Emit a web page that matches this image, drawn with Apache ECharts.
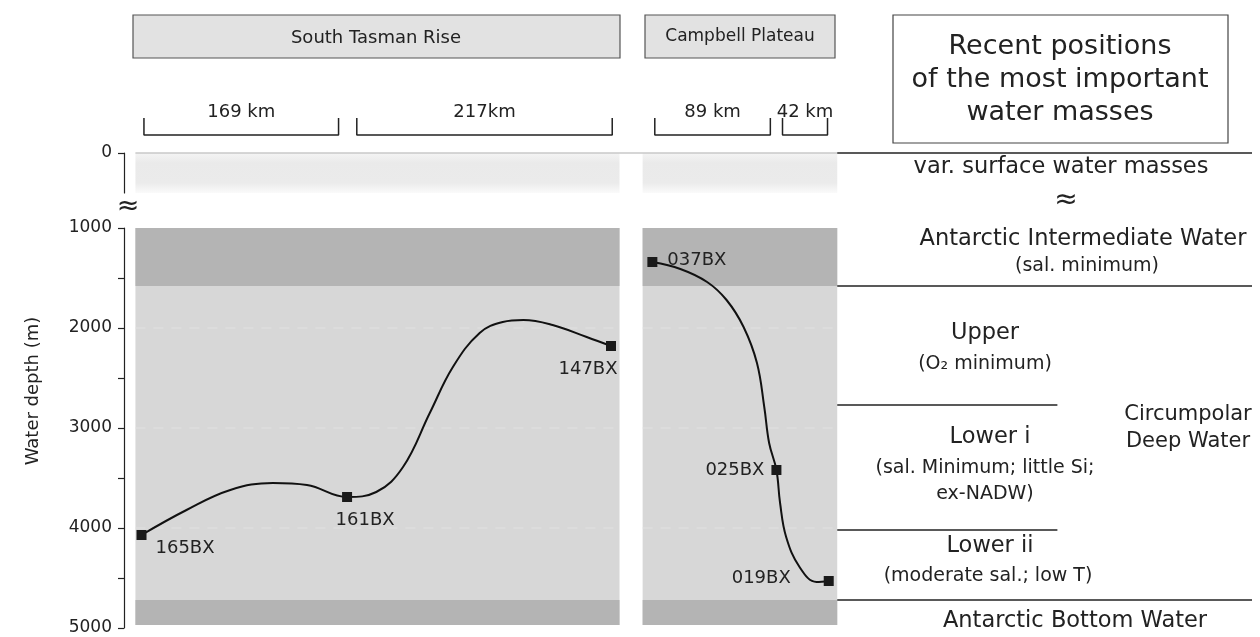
<!DOCTYPE html>
<html><head><meta charset="utf-8">
<script src="https://cdn.jsdelivr.net/npm/echarts@6/dist/echarts.min.js"></script>
<style>html,body{margin:0;padding:0;background:#fff}#c{width:1260px;height:637px}</style>
</head><body><div id="c"></div>
<script>
// ---------------- data ----------------
// x = position along the section as drawn (km-like units), depth in m
const stationNames = ['165BX', '161BX', '147BX', '037BX', '025BX', '019BX'];
const stationDist  = [0, 169, 386, 420, 522, 565];
const stationDepth = [4070, 3690, 2180, 1340, 3420, 4530];

const tasmanCurveDist  = [0, 37, 73, 108, 136, 169, 193, 215, 237, 256, 278, 297, 314, 338, 366, 386];
const tasmanCurveDepth = [4070, 3820, 3620, 3550, 3570, 3690, 3640, 3390, 2850, 2390, 2050, 1940, 1920, 1970, 2090, 2180];
const campbellCurveDist  = [420, 443, 465, 481, 495, 506, 512, 516, 522, 525, 530, 541, 555, 565];
const campbellCurveDepth = [1340, 1410, 1540, 1720, 1990, 2350, 2790, 3150, 3420, 3750, 4090, 4390, 4540, 4530];

const bracketLabels = ['169 km', '217km', '89 km', '42 km'];
const bracketStart  = [2, 177, 422, 527];
const bracketEnd    = [162, 387, 517, 564];

const panelNames = ['South Tasman Rise', 'Campbell Plateau'];
const panelStart = [-5, 412];
const panelEnd   = [393, 572];

const surfaceBand = [0, 400];
const aaiwBand = [1000, 1580];
const aabwBand = [4720, 4970];
const panelBottom = 4970;

const boundaryDepth = [1580, 2770, 4020, 4720];
const boundaryStart = 572;
const boundaryEnd   = [913, 753, 753, 913];

const depthTicks  = [1000, 1500, 2000, 2500, 3000, 3500, 4000, 4500, 5000];
const depthLabels = [1000, 2000, 3000, 4000, 5000];
const surfaceTicks = [0];
const faintGrid = [2000, 3000, 4000];

// ---------------- chart ----------------
const FONT = 'DejaVu Sans';
const INK = '#222';
const X_MIN = -7, X_MAX = 913;

const chart = echarts.init(document.getElementById('c'), null, {renderer: 'canvas'});

const grids = [
  {left: 133, right: 8, top: 118, height: 17},   // brackets
  {left: 133, right: 8, top: 153, height: 40},   // surface (0 m)
  {left: 133, right: 8, top: 228, height: 400}   // 1000-5000 m
];
const xAxes = grids.map((g, i) => ({gridIndex: i, type: 'value', min: X_MIN, max: X_MAX, show: false}));
const yAxisCommon = {
  type: 'value', inverse: true, offset: 9, z: 10,
  axisLine: {show: true, onZero: false, lineStyle: {color: INK, width: 1.2}},
  splitLine: {show: false}
};
const yAxes = [
  {gridIndex: 0, type: 'value', min: 0, max: 1, show: false},
  Object.assign({}, yAxisCommon, {gridIndex: 1, min: 0, max: 400,
    axisTick: {show: true, customValues: surfaceTicks, length: 6, lineStyle: {color: INK, width: 1.2}},
    axisLabel: {show: true, customValues: surfaceTicks, formatter: v => String(v), margin: 12, color: INK, fontFamily: FONT, fontSize: 17}}),
  Object.assign({}, yAxisCommon, {gridIndex: 2, min: 1000, max: 5000,
    axisTick: {show: true, customValues: depthTicks, length: 6, lineStyle: {color: INK, width: 1.2}},
    axisLabel: {show: true, customValues: depthLabels, formatter: v => String(v), margin: 12, color: INK, fontFamily: FONT, fontSize: 17}})
];

const series = [];
// panels
series.push({
  type: 'line', xAxisIndex: 2, yAxisIndex: 2, data: [], z: 1, silent: true,
  markArea: {silent: true, itemStyle: {color: '#d7d7d7'},
    data: panelStart.map((s, i) => [{xAxis: s, yAxis: 1000}, {xAxis: panelEnd[i], yAxis: panelBottom}])}
});
series.push({
  type: 'line', xAxisIndex: 2, yAxisIndex: 2, data: [], z: 2, silent: true,
  markArea: {silent: true, itemStyle: {color: '#b4b4b4'},
    data: panelStart.flatMap((s, i) => [
      [{xAxis: s, yAxis: aaiwBand[0]}, {xAxis: panelEnd[i], yAxis: aaiwBand[1]}],
      [{xAxis: s, yAxis: aabwBand[0]}, {xAxis: panelEnd[i], yAxis: aabwBand[1]}]
    ])}
});
// surface band (blurred)
series.push({
  type: 'line', xAxisIndex: 1, yAxisIndex: 1, data: [], z: 1, silent: true,
  markArea: {silent: true,
    itemStyle: {color: new echarts.graphic.LinearGradient(0, 0, 0, 1, [
      {offset: 0, color: '#f4f4f4'}, {offset: 0.25, color: '#eaeaea'},
      {offset: 0.75, color: '#ebebeb'}, {offset: 1, color: '#fafafa'}])},
    data: panelStart.map((s, i) => [{xAxis: s, yAxis: surfaceBand[0]}, {xAxis: panelEnd[i], yAxis: surfaceBand[1]}])}
});
// faint dashed depth lines inside panels
panelStart.forEach((s, i) => {
  faintGrid.forEach(d => series.push({
    type: 'line', xAxisIndex: 2, yAxisIndex: 2, z: 3, silent: true, symbol: 'none',
    lineStyle: {color: '#e2e2e2', width: 1.2, type: [10, 8]},
    data: [[s, d], [panelEnd[i], d]]
  }));
});
// 0 m line
series.push({type: 'line', xAxisIndex: 1, yAxisIndex: 1, z: 4, clip: false, silent: true, symbol: 'none',
  lineStyle: {color: '#c8c8c8', width: 1.5}, data: [[panelStart[0], 0], [boundaryStart, 0]]});
series.push({type: 'line', xAxisIndex: 1, yAxisIndex: 1, z: 4, clip: false, silent: true, symbol: 'none',
  lineStyle: {color: INK, width: 1.5}, data: [[boundaryStart, 0], [X_MAX, 0]]});
// water mass boundaries
boundaryDepth.forEach((d, i) => series.push({
  type: 'line', xAxisIndex: 2, yAxisIndex: 2, z: 4, clip: false, silent: true, symbol: 'none',
  lineStyle: {color: INK, width: 1.5}, data: [[boundaryStart, d], [boundaryEnd[i], d]]
}));
// profile curves
[[tasmanCurveDist, tasmanCurveDepth], [campbellCurveDist, campbellCurveDepth]].forEach(([xs, ys]) => series.push({
  type: 'line', xAxisIndex: 2, yAxisIndex: 2, z: 5, smooth: 0.4, symbol: 'none', silent: true,
  lineStyle: {color: '#111', width: 2}, data: xs.map((x, i) => [x, ys[i]])
}));
// stations
const labelPlacement = {
  '165BX': {position: 'right', offset: [4, 13]},
  '161BX': {position: 'bottom', offset: [18, 4]},
  '147BX': {position: 'bottom', offset: [-23, 4]},
  '037BX': {position: 'right', offset: [5, -2]},
  '025BX': {position: 'left', offset: [-2, 0]},
  '019BX': {position: 'left', offset: [-28, -3]}
};
series.push({
  type: 'scatter', xAxisIndex: 2, yAxisIndex: 2, z: 6, symbol: 'rect', symbolSize: 10, silent: true,
  itemStyle: {color: '#1a1a1a', opacity: 1},
  data: stationNames.map((n, i) => ({name: n, value: [stationDist[i], stationDepth[i]],
    label: Object.assign({show: true, formatter: '{b}', color: INK, fontFamily: FONT, fontSize: 18}, labelPlacement[n])}))
});
// distance brackets
bracketStart.forEach((s, i) => series.push({
  type: 'line', xAxisIndex: 0, yAxisIndex: 0, z: 4, clip: false, silent: true, symbol: 'none',
  lineStyle: {color: INK, width: 1.5}, data: [[s, 1], [s, 0], [bracketEnd[i], 0], [bracketEnd[i], 1]]
}));
series.push({
  type: 'scatter', xAxisIndex: 0, yAxisIndex: 0, symbolSize: 0, silent: true, itemStyle: {opacity: 1},
  data: bracketLabels.map((l, i) => ({name: l, value: [(bracketStart[i] + bracketEnd[i]) / 2, 1]})),
  label: {show: true, formatter: '{b}', position: 'inside', offset: [0, -6], color: INK, fontFamily: FONT, fontSize: 18}
});

const txt = (x, y, text, size, extra) => Object.assign({type: 'text', x, y, silent: true,
  style: {text, fill: INK, font: size + 'px "' + FONT + '"', align: 'center', verticalAlign: 'middle'}}, extra || {});

const graphic = [
  {type: 'rect', silent: true, shape: {x: 133, y: 15, width: 487, height: 43}, style: {fill: '#e2e2e2', stroke: '#555', lineWidth: 1.2}},
  txt(376, 38, panelNames[0], 18),
  {type: 'rect', silent: true, shape: {x: 645, y: 15, width: 190, height: 43}, style: {fill: '#e2e2e2', stroke: '#555', lineWidth: 1.2}},
  txt(740, 37, panelNames[1], 17),
  {type: 'rect', silent: true, shape: {x: 893, y: 15, width: 335, height: 128}, style: {fill: '#fff', stroke: '#444', lineWidth: 1.2}},
  txt(1060, 47, 'Recent positions', 27),
  txt(1060, 80, 'of the most important', 27),
  txt(1060, 113, 'water masses', 27),
  txt(128, 207, '≈', 27),
  txt(1066, 201, '≈', 28),
  txt(1061, 167, 'var. surface water masses', 22.5),
  txt(1083, 239, 'Antarctic Intermediate Water', 22.5),
  txt(1087, 266, '(sal. minimum)', 19),
  txt(985, 333, 'Upper', 22.5),
  txt(985, 364, '(O₂ minimum)', 19),
  txt(990, 437, 'Lower i', 22.5),
  txt(985, 468, '(sal. Minimum; little Si;', 19),
  txt(985, 494, 'ex-NADW)', 19),
  txt(1188, 415, 'Circumpolar', 21),
  txt(1188, 442, 'Deep Water', 21),
  txt(990, 546, 'Lower ii', 22.5),
  txt(988, 576, '(moderate sal.; low T)', 19),
  txt(1075, 621, 'Antarctic Bottom Water', 22.5),
  txt(33, 391, 'Water depth (m)', 18, {rotation: Math.PI / 2})
];

chart.setOption({
  animation: false,
  backgroundColor: '#fff',
  grid: grids, xAxis: xAxes, yAxis: yAxes, series, graphic
});
</script>
</body></html>
